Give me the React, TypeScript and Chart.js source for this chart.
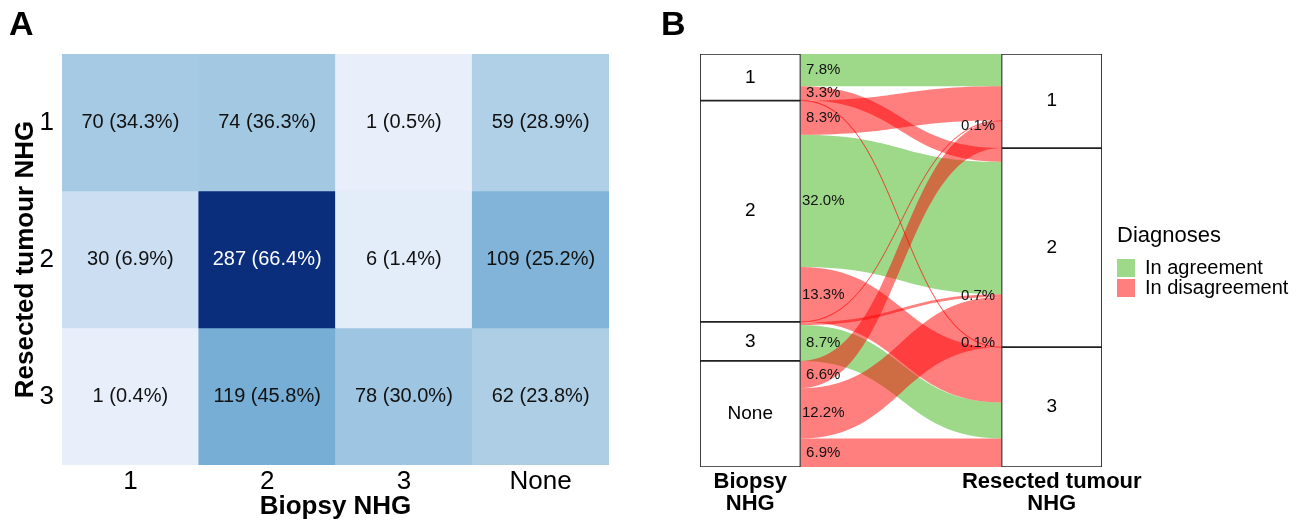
import React, { useEffect, useRef } from 'react';
import { Chart, registerables } from 'chart.js';

Chart.register(...registerables);

const FONT = "'Liberation Sans', Arial, Helvetica, sans-serif";
Chart.defaults.font.family = FONT;
Chart.defaults.color = '#000';

// ---------------- data ----------------
const biopsyLabels = ['1', '2', '3', 'None'];
const resectedLabels = ['1', '2', '3'];
// counts per resected tumour NHG row, across biopsy NHG columns
const resected1 = [70, 74, 1, 59];
const resected2 = [30, 287, 6, 109];
const resected3 = [1, 119, 78, 62];
const counts = [resected1, resected2, resected3];

const xTitleA = 'Biopsy NHG';
const yTitleA = 'Resected tumour NHG';
const axisLabelsB: (string | string[])[] = [['Biopsy', 'NHG'], '', '', ['Resected tumour', 'NHG']];
const legendTitleB = 'Diagnoses';
const legendLabelsB = ['In agreement', 'In disagreement'];

// ---------------- styles ----------------
const heatStops: [number, string][] = [
  [0, '#E9F0FB'],
  [30, '#CCDEF1'],
  [70, '#A6CAE3'],
  [119, '#77AED5'],
  [287, '#0A2E7B'],
];
const GREEN = 'rgba(62,180,22,0.5)';
const RED = 'rgba(255,0,0,0.5)';
// vertical nudge (px) for the small-flow labels drawn at the right axis, keyed "resected-biopsy"
const rightLabelNudge: Record<string, number> = { '0-2': 5, '2-0': -5 };

function hexToRgb(h: string) {
  const n = parseInt(h.slice(1), 16);
  return [(n >> 16) & 255, (n >> 8) & 255, n & 255];
}
function heatColor(v: number): string {
  for (let k = 1; k < heatStops.length; k++) {
    const [v0, c0] = heatStops[k - 1];
    const [v1, c1] = heatStops[k];
    if (v <= v1 || k === heatStops.length - 1) {
      const t = Math.max(0, Math.min(1, (v - v0) / (v1 - v0)));
      const a = hexToRgb(c0);
      const b = hexToRgb(c1);
      return `rgb(${a.map((x, i) => Math.round(x + (b[i] - x) * t)).join(',')})`;
    }
  }
  return heatStops[0][1];
}

const rowTotals = counts.map((r) => r.reduce((a, b) => a + b, 0));
const colTotals = biopsyLabels.map((_, j) => counts.reduce((a, r) => a + r[j], 0));
const grandTotal = rowTotals.reduce((a, b) => a + b, 0);

function cumStarts(arr: number[]) {
  const out: number[] = [];
  let s = 0;
  arr.forEach((v) => { out.push(s); s += v; });
  return out;
}
const leftStarts = cumStarts(colTotals);
const rightStarts = cumStarts(rowTotals);

// ---------------- chart A (heatmap) ----------------
const cellLabelPlugin = {
  id: 'cellLabels',
  afterDatasetsDraw(chart: any) {
    const ctx = chart.ctx;
    ctx.save();
    ctx.font = `20px ${FONT}`;
    ctx.textAlign = 'center';
    ctx.textBaseline = 'middle';
    counts.forEach((row, i) => {
      const meta = chart.getDatasetMeta(i);
      row.forEach((v, j) => {
        const el = meta.data[j];
        if (!el) return;
        const p = el.getCenterPoint();
        const pct = ((v / rowTotals[i]) * 100).toFixed(1);
        ctx.fillStyle = v > 200 ? '#ffffff' : '#111111';
        ctx.fillText(`${v} (${pct}%)`, p.x, p.y);
      });
    });
    ctx.restore();
  },
};

function configA(): any {
  return {
    type: 'bar',
    data: {
      labels: biopsyLabels,
      datasets: counts.map((row, i) => ({
        label: `Resected ${resectedLabels[i]}`,
        data: row.map(() => [i, i + 1]),
        backgroundColor: row.map((v) => heatColor(v)),
        borderWidth: 0,
        barPercentage: 1,
        categoryPercentage: 1,
        grouped: false,
      })),
    },
    options: {
      responsive: false,
      animation: false,
      events: [],
      layout: { padding: { left: 9, right: 41, top: 0, bottom: 0 } },
      plugins: {
        legend: { display: false },
        tooltip: { enabled: false },
        title: {
          display: true,
          text: 'A',
          align: 'start',
          color: '#000',
          font: { size: 34, weight: 'bold', family: FONT },
          padding: { top: 5.2, bottom: 8.0 },
        },
      },
      scales: {
        x: {
          type: 'category',
          grid: { display: false, drawTicks: false },
          border: { display: false },
          ticks: { font: { size: 26, lineHeight: 1 }, color: '#000', padding: 4 },
          title: {
            display: true,
            text: xTitleA,
            color: '#000',
            font: { size: 26, weight: 'bold', lineHeight: 1 },
            padding: { top: 0, bottom: 1.5 },
          },
          afterFit: (s: any) => { s.height = 56; },
        },
        y: {
          type: 'linear',
          reverse: true,
          min: 0,
          max: resectedLabels.length,
          grid: { display: false, drawTicks: false },
          border: { display: false },
          afterBuildTicks: (s: any) => {
            s.ticks = resectedLabels.map((_, i) => ({ value: i + 0.5 }));
          },
          ticks: {
            font: { size: 26, lineHeight: 1 },
            color: '#000',
            padding: 8,
            callback: (v: number) => resectedLabels[Math.floor(v)],
          },
          title: {
            display: true,
            text: yTitleA,
            color: '#000',
            font: { size: 26, weight: 'bold', lineHeight: 1 },
            padding: { top: 4, bottom: 0 },
          },
          afterFit: (s: any) => { s.width = 53; },
        },
      },
    },
    plugins: [cellLabelPlugin],
  };
}

// ---------------- chart B (alluvial) ----------------
type Flow = { i: number; j: number; count: number; l0: number; l1: number; r0: number; r1: number };
function buildFlows(): Flow[] {
  const flows: Flow[] = [];
  const leftPos = leftStarts.slice();
  const rightPos = rightStarts.slice();
  const lStart: number[][] = counts.map(() => []);
  // left side: within each biopsy stratum, lodes ordered by resected grade
  biopsyLabels.forEach((_, j) => {
    counts.forEach((row, i) => {
      lStart[i][j] = leftPos[j];
      leftPos[j] += row[j];
    });
  });
  // right side: within each resected stratum, lodes ordered by biopsy grade
  counts.forEach((row, i) => {
    row.forEach((v, j) => {
      const r0 = rightPos[i];
      rightPos[i] += v;
      flows.push({ i, j, count: v, l0: lStart[i][j], l1: lStart[i][j] + v, r0, r1: r0 + v });
    });
  });
  return flows;
}

const flowPlugin = {
  id: 'flows',
  afterLayout(chart: any) {
    // let the legend text run to the canvas edge instead of being clipped to the box width
    const lg = chart.legend;
    if (lg) {
      lg.right = chart.width;
      lg.width = lg.right - lg.left;
    }
  },
  beforeDatasetsDraw(chart: any) {
    const { ctx } = chart;
    const x = chart.scales.x;
    const y = chart.scales.y;
    const xL = x.getPixelForValue(0.5);
    const xR = x.getPixelForValue(2.5);
    const xm = (xL + xR) / 2;
    const flows = buildFlows();
    ctx.save();
    [true, false].forEach((agree) => {
      flows
        .filter((f) => (f.i === f.j) === agree)
        .forEach((f) => {
          const lt = y.getPixelForValue(f.l0);
          const lb = y.getPixelForValue(f.l1);
          const rt = y.getPixelForValue(f.r0);
          const rb = y.getPixelForValue(f.r1);
          ctx.beginPath();
          ctx.moveTo(xL, lt);
          ctx.bezierCurveTo(xm, lt, xm, rt, xR, rt);
          ctx.lineTo(xR, rb);
          ctx.bezierCurveTo(xm, rb, xm, lb, xL, lb);
          ctx.closePath();
          ctx.fillStyle = agree ? GREEN : RED;
          ctx.fill();
          if (Math.abs(lb - lt) < 1) {
            ctx.strokeStyle = agree ? GREEN : RED;
            ctx.lineWidth = 0.7;
            ctx.stroke();
          }
        });
    });
    ctx.restore();
  },
  afterDatasetsDraw(chart: any) {
    const { ctx } = chart;
    const x = chart.scales.x;
    const y = chart.scales.y;
    const xL = x.getPixelForValue(0.5);
    const xR = x.getPixelForValue(2.5);
    const w = xR - xL;
    ctx.save();
    // stratum labels
    ctx.font = `19px ${FONT}`;
    ctx.textAlign = 'center';
    ctx.textBaseline = 'middle';
    ctx.fillStyle = '#000';
    chart.data.datasets.forEach((_: any, k: number) => {
      const meta = chart.getDatasetMeta(k);
      [0, 3].forEach((idx) => {
        const el = meta.data[idx];
        const raw = chart.data.datasets[k].data[idx];
        if (!el || !raw) return;
        const p = el.getCenterPoint();
        const txt = idx === 0 ? biopsyLabels[k] : resectedLabels[k];
        ctx.fillText(txt, p.x, p.y);
      });
    });
    // flow labels
    ctx.font = `15px ${FONT}`;
    ctx.fillStyle = '#111';
    buildFlows().forEach((f) => {
      const pct = (f.count / grandTotal) * 100;
      const txt = pct.toFixed(1) + '%';
      if (pct >= 1) {
        const cy = (y.getPixelForValue(f.l0) + y.getPixelForValue(f.l1)) / 2;
        ctx.fillText(txt, xL + 0.113 * w, cy);
      } else {
        const cy = (y.getPixelForValue(f.r0) + y.getPixelForValue(f.r1)) / 2;
        const nudge = rightLabelNudge[`${f.i}-${f.j}`] || 0;
        ctx.fillText(txt, xR - 0.117 * w, cy + nudge);
      }
    });
    ctx.restore();
  },
};

function configB(): any {
  return {
    type: 'bar',
    data: {
      labels: axisLabelsB,
      datasets: biopsyLabels.map((lab, k) => ({
        label: lab,
        data: [
          [leftStarts[k], leftStarts[k] + colTotals[k]],
          null,
          null,
          k < rowTotals.length ? [rightStarts[k], rightStarts[k] + rowTotals[k]] : null,
        ],
        backgroundColor: '#ffffff',
        borderColor: '#222222',
        borderWidth: 1.2,
        borderSkipped: false,
        barPercentage: 1,
        categoryPercentage: 1,
        grouped: false,
      })),
    },
    options: {
      responsive: false,
      animation: false,
      events: [],
      layout: { padding: { left: 11, right: 98.8, top: 0, bottom: 0 } },
      plugins: {
        tooltip: { enabled: false },
        title: {
          display: true,
          text: 'B',
          align: 'start',
          color: '#000',
          font: { size: 34, weight: 'bold', family: FONT },
          padding: { top: 5.2, bottom: 8.0 },
        },
        legend: {
          display: true,
          position: 'right',
          align: 'center',
          fullSize: false,
          title: {
            display: true,
            text: legendTitleB,
            position: 'start',
            color: '#000',
            font: { size: 22 },
            padding: { top: 2, bottom: 6.6 },
          },
          labels: {
            boxWidth: 18,
            boxHeight: 18,
            padding: 0,
            color: '#000',
            font: { size: 20 },
            generateLabels: () =>
              legendLabelsB.map((t, k) => ({
                text: t,
                fillStyle: k === 0 ? GREEN : RED,
                strokeStyle: 'rgba(0,0,0,0)',
                lineWidth: 0,
                hidden: false,
                datasetIndex: k,
              })),
          },
        },
      },
      scales: {
        x: {
          type: 'category',
          grid: { display: false, drawTicks: false },
          border: { display: false },
          ticks: {
            font: { size: 22, weight: 'bold', lineHeight: 1 },
            color: '#000',
            padding: 4,
            autoSkip: false,
            maxRotation: 0,
          },
          afterFit: (s: any) => { s.height = 54; },
        },
        y: {
          type: 'linear',
          reverse: true,
          min: 0,
          max: grandTotal,
          grid: { display: false, drawTicks: false },
          border: { display: false },
          ticks: { display: false },
          afterFit: (s: any) => { s.width = 39; },
        },
        yR: {
          type: 'linear',
          position: 'right',
          grid: { display: false, drawTicks: false },
          border: { display: false },
          ticks: { display: false },
          afterFit: (s: any) => { s.width = 15; },
        },
      },
    },
    plugins: [flowPlugin],
  };
}

export default function App() {
  const refA = useRef<HTMLCanvasElement>(null);
  const refB = useRef<HTMLCanvasElement>(null);
  useEffect(() => {
    const a = new Chart(refA.current as HTMLCanvasElement, configA());
    const b = new Chart(refB.current as HTMLCanvasElement, configB());
    return () => {
      a.destroy();
      b.destroy();
    };
  }, []);
  return (
    <div style={{ position: 'absolute', left: 0, top: 0, width: 1307, height: 521, background: '#fff', overflow: 'hidden' }}>
      <canvas ref={refA} width={650} height={521} style={{ position: 'absolute', left: 0, top: 0, width: 650, height: 521 }} />
      <canvas ref={refB} width={657} height={521} style={{ position: 'absolute', left: 650, top: 0, width: 657, height: 521 }} />
    </div>
  );
}
